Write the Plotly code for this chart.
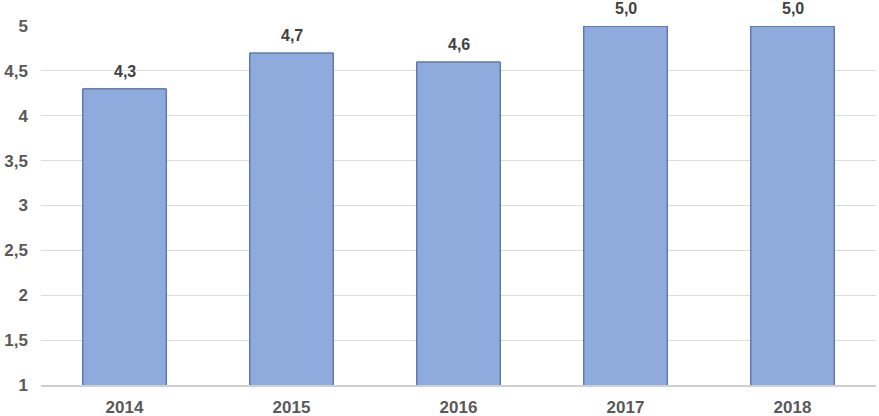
import plotly.graph_objects as go

years = ["2014", "2015", "2016", "2017", "2018"]
values = [4.3, 4.7, 4.6, 5.0, 5.0]
value_labels = ["4,3", "4,7", "4,6", "5,0", "5,0"]
y_ticks = [1, 1.5, 2, 2.5, 3, 3.5, 4, 4.5, 5]
y_tick_labels = ["1", "1,5", "2", "2,5", "3", "3,5", "4", "4,5", "5"]

FONT = "Liberation Sans, Arial"

fig = go.Figure(go.Bar(
    x=years, y=values,
    marker=dict(color="#8faadc", line=dict(color="#2f5597", width=1)),
    hoverinfo="x+y",
))
for i, (y, t) in enumerate(zip(values, value_labels)):
    fig.add_annotation(
        x=i, y=y, text="<b>%s</b>" % t, showarrow=False,
        yanchor="bottom", yshift=7,
        font=dict(family=FONT, size=16, color="#404040"),
    )
fig.update_layout(
    width=879, height=416,
    margin=dict(l=41, r=3, t=26, b=31),
    paper_bgcolor="white", plot_bgcolor="white",
    bargap=0.5, showlegend=False,
    font=dict(family=FONT, size=17, color="#595959"),
)
fig.update_xaxes(
    type="category", automargin=False, range=[-0.5, len(years) - 0.5],
    showline=True, linecolor="#cfcfcf", linewidth=2,
    tickfont=dict(family=FONT, size=17, color="#595959", weight="bold"),
    ticks="", ticklabelstandoff=6,
)
fig.update_yaxes(
    automargin=False,
    range=[1, 5], tickvals=y_ticks, ticktext=y_tick_labels,
    showgrid=True, gridcolor="#dcdcdc", gridwidth=1, zeroline=False,
    tickfont=dict(family=FONT, size=17, color="#595959", weight="bold"),
    ticks="", ticklabelstandoff=12,
)
fig.write_html("out.html", config={"displayModeBar": False},
               post_script="document.body.style.margin='0';")
